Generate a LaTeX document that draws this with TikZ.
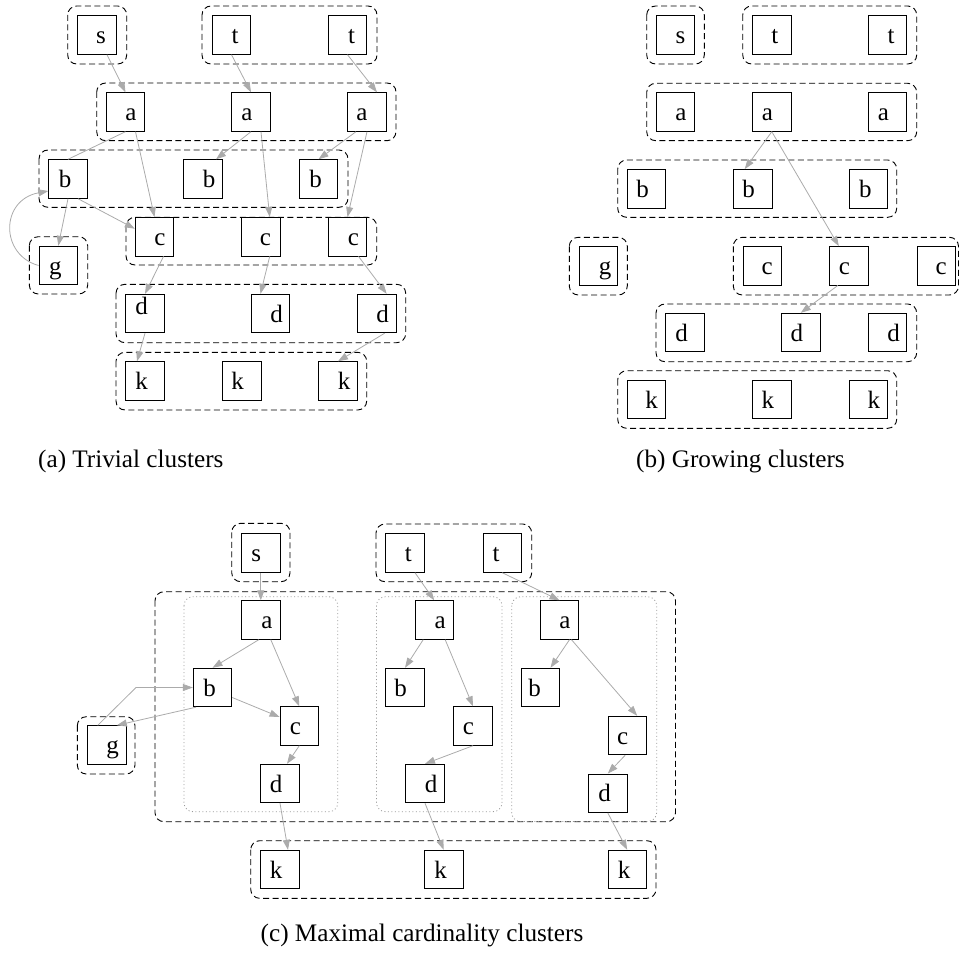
\documentclass[tikz,border=0pt]{standalone}
\usepackage{fontspec}
\setmainfont{Liberation Serif}
\usetikzlibrary{arrows.meta,calc}
\newcommand\ofs[2]{\makebox[0pt]{\hspace*{#1pt}\hspace*{#1pt}#2}}
\tikzset{
  box/.style={draw=black, line width=0.9pt, minimum width=38.5pt, minimum height=38.5pt,
    inner sep=0pt, text height=17pt, text depth=0pt, font=\fontsize{25}{29}\selectfont},
  edge/.style={draw=gray!66, line width=0.8pt, -{Triangle[length=10pt,width=7pt]}},
  plainedge/.style={draw=gray!66, line width=0.8pt},
  cluster/.style={draw=black, line width=0.9pt, dash pattern=on 6pt off 3.5pt, rounded corners=9pt},
  subcluster/.style={draw=black!40, line width=0.8pt, dash pattern=on 1pt off 2.5pt, rounded corners=9pt},
  caption/.style={anchor=base west, inner sep=0pt, font=\fontsize{25.2}{30}\selectfont}
}
\begin{document}
\begin{tikzpicture}[x=1pt,y=-1pt]
\useasboundingbox (0,0) rectangle (959,955);

% ================= panel (a) =================
\draw[cluster] (67.7,6) rectangle (126.7,64);
\draw[cluster] (202,6) rectangle (377,64);
\draw[cluster] (96.7,83) rectangle (396,140.7);
\draw[cluster] (39,150) rectangle (348,207.3);
\draw[cluster] (126,217.3) rectangle (376.7,265);
\draw[cluster] (29.3,236.7) rectangle (87.7,294);
\draw[cluster] (116,284.3) rectangle (405.7,342.7);
\draw[cluster] (116,352.3) rectangle (366.7,410);

\node[box] (aS)  at (97,35)      {\ofs{4}{s}};
\node[box] (aT1) at (231.5,35)   {\ofs{3.5}{t}};
\node[box] (aT2) at (347.5,35)   {\ofs{4}{t}};
\node[box] (aA1) at (125.5,112)  {\ofs{5.5}{a}};
\node[box] (aA2) at (251,112)    {\ofs{-4}{a}};
\node[box] (aA3) at (367,112)    {\ofs{-5}{a}};
\node[box] (aB1) at (68,179)     {\ofs{-3}{b}};
\node[box] (aB2) at (203,179)    {\ofs{6}{b}};
\node[box] (aB3) at (318.5,179)  {\ofs{-3}{b}};
\node[box] (aC1) at (154.5,236.7){\ofs{5.5}{c}};
\node[box] (aC2) at (260.7,236.7){\ofs{4.7}{c}};
\node[box] (aC3) at (347.5,236.7){\ofs{6}{c}};
\node[box] (aG)  at (58.3,265.5) {\ofs{-3}{g}};
\node[box] (aD1) at (145,313.5)  {\raisebox{8pt}{\ofs{-3.5}{d}}};
\node[box] (aD2) at (270.5,313.5){\ofs{6}{d}};
\node[box] (aD3) at (376.7,313.5){\ofs{6}{d}};
\node[box] (aK1) at (145,381)    {\ofs{-3.5}{k}};
\node[box] (aK2) at (241.7,381)  {\ofs{-4}{k}};
\node[box] (aK3) at (338,381)    {\ofs{6}{k}};

\draw[edge] ($(aS.south)+(10,0)$) -- (aA1.north);
\draw[edge] (aT1.south) -- (aA2.north);
\draw[edge] (aT2.south) -- ($(aA3.north)+(10,0)$);
\draw[plainedge] (aA1.south) -- (aB1.north);
\draw[edge] ($(aA1.south)+(10,0)$) -- (aC1.north);
\draw[edge] (aA2.south) -- ($(aB2.north)+(13,0)$);
\draw[edge] ($(aA2.south)+(10,0)$) -- ($(aC2.north)+(9,0)$);
\draw[edge] ($(aA3.south)+(-11,0)$) -- (aB3.north);
\draw[edge] (aA3.south) -- (aC3.north);
\draw[edge] (aB1.south) -- (aG.north);
\draw[edge] ($(aB1.south)+(10,0)$) -- ($(aC1.west)+(0,-8)$);
\draw[edge] (aG.west) .. controls (0,255) and (0,200) .. ($(aB1.west)+(0,12)$);
\draw[edge] ($(aC1.south)+(9,0)$) -- (aD1.north);
\draw[edge] ($(aC2.south)+(9,0)$) -- ($(aD2.north)+(-10,0)$);
\draw[edge] ($(aC3.south)+(11,0)$) -- ($(aD3.north)+(10,0)$);
\draw[edge] (aD1.south) -- ($(aK1.north)+(-8,0)$);
\draw[edge] ($(aD3.south)+(8,0)$) -- (aK3.north);

\node[caption] (capA) at (38,467.7) {(a) Trivial clusters};

% ================= panel (b) =================
\draw[cluster] (646.7,6) rectangle (704.3,64);
\draw[cluster] (742.7,6) rectangle (916.7,64);
\draw[cluster] (646.7,83.3) rectangle (916.7,140.7);
\draw[cluster] (617.7,160) rectangle (896.7,217.3);
\draw[cluster] (569.3,237.3) rectangle (627.3,295);
\draw[cluster] (733.3,237.3) rectangle (958.5,295);
\draw[cluster] (656,304) rectangle (916.7,361.7);
\draw[cluster] (617.7,370.7) rectangle (896.7,428.3);

\node[box] (bS)  at (675.5,35)   {\ofs{5}{s}};
\node[box] (bT1) at (771.8,35)   {\ofs{3}{t}};
\node[box] (bT2) at (887.5,35)   {\ofs{3.5}{t}};
\node[box] (bA1) at (675.5,112)  {\ofs{5.5}{a}};
\node[box] (bA2) at (771.8,112)  {\ofs{-4.5}{a}};
\node[box] (bA3) at (887.5,112)  {\ofs{-4}{a}};
\node[box] (bB1) at (646.5,188.8){\ofs{-4}{b}};
\node[box] (bB2) at (752.7,188.8){\ofs{-4}{b}};
\node[box] (bB3) at (868.3,188.8){\ofs{-3}{b}};
\node[box] (bG)  at (598.2,265.8){\ofs{7}{g}};
\node[box] (bC1) at (762.2,265.8){\ofs{5}{c}};
\node[box] (bC2) at (848.8,265.8){\ofs{-4.5}{c}};
\node[box] (bC3) at (936.2,265.8){\ofs{5}{c}};
\node[box] (bD1) at (685,332.5)  {\ofs{-3.3}{d}};
\node[box] (bD2) at (800.8,332.5){\ofs{-4}{d}};
\node[box] (bD3) at (887.5,332.5){\ofs{6}{d}};
\node[box] (bK1) at (646.5,399.5){\ofs{5}{k}};
\node[box] (bK2) at (771.8,399.5){\ofs{-4}{k}};
\node[box] (bK3) at (868.3,399.5){\ofs{5.5}{k}};

\draw[edge] (bA2.south) -- ($(bB2.north)+(-8,0)$);
\draw[edge] (bA2.south) -- ($(bC2.north)+(-10,0)$);
\draw[edge] ($(bC2.south)+(-11,0)$) -- (bD2.north);

\node[caption] (capB) at (636,467.7) {(b) Growing clusters};

% ================= panel (c) =================
\draw[cluster] (155,591.7) rectangle (675.5,821.7);
\draw[subcluster] (184,596.7) rectangle (337.8,811.7);
\draw[subcluster] (376.5,596.7) rectangle (502,811.7);
\draw[subcluster] (511.7,596.7) rectangle (656.7,821.5);
\draw[cluster] (231.7,523.3) rectangle (290,581.7);
\draw[cluster] (376,524) rectangle (531.7,581.7);
\draw[cluster] (77.3,716.7) rectangle (135,774);
\draw[cluster] (250.7,840.7) rectangle (656,898.3);

\node[box] (cS)  at (260.8,553)  {\ofs{-4.5}{s}};
\node[box] (cT1) at (405,553)    {\ofs{3.3}{t}};
\node[box] (cT2) at (502.2,553)  {\ofs{-6}{t}};
\node[box] (cA1) at (260.8,620)  {\ofs{6}{a}};
\node[box] (cA2) at (434.2,620)  {\ofs{6}{a}};
\node[box] (cA3) at (559.5,620)  {\ofs{5.5}{a}};
\node[box] (cB1) at (212.5,687.5){\ofs{-3}{b}};
\node[box] (cB2) at (405,687.5)  {\ofs{-4.5}{b}};
\node[box] (cB3) at (540.5,687.5){\ofs{-6}{b}};
\node[box] (cC1) at (299.3,726)  {\ofs{-4}{c}};
\node[box] (cC2) at (473,726)    {\ofs{-4.7}{c}};
\node[box] (cC3) at (627.2,735.5){\ofs{-4.5}{c}};
\node[box] (cG)  at (106.8,745)  {\ofs{5.7}{g}};
\node[box] (cD1) at (280,783.5)  {\ofs{-4}{d}};
\node[box] (cD2) at (425,783.5)  {\ofs{6}{d}};
\node[box] (cD3) at (607.8,793.2){\ofs{-3.3}{d}};
\node[box] (cK1) at (280,869.5)  {\ofs{-4}{k}};
\node[box] (cK2) at (443.7,869.5){\ofs{-3}{k}};
\node[box] (cK3) at (627.2,869.5){\ofs{-3}{k}};
\coordinate (cBend) at (136,687.5);

\draw[edge] (cS.south) -- (cA1.north);
\draw[edge] ($(cA1.south)+(-2,0)$) -- (cB1.north);
\draw[edge] ($(cA1.south)+(10,0)$) -- (cC1.north);
\draw[edge] ($(cB1.east)+(0,10)$) -- ($(cC1.west)+(0,-9)$);
\draw[edge] ($(cB1.south)+(-16.5,0)$) -- ($(cG.north)+(10,0)$);
\draw[edge] ($(cG.north)+(-9,0)$) -- (cBend) -- (cB1.west);
\draw[edge] (cC1.south) -- ($(cD1.north)+(7,0)$);
\draw[edge] (cD1.south) -- ($(cK1.north)+(8,0)$);
\draw[edge] ($(cT1.south)+(10,0)$) -- (cA2.north);
\draw[edge] ($(cA2.south)+(-11,0)$) -- (cB2.north);
\draw[edge] ($(cA2.south)+(11,0)$) -- (cC2.north);
\draw[edge] (cC2.south) -- (cD2.north);
\draw[edge] (cD2.south) -- (cK2.north);
\draw[edge] (cT2.south) -- (cA3.north);
\draw[edge] ($(cA3.south)+(10,0)$) -- ($(cB3.north)+(10,0)$);
\draw[edge] ($(cA3.south)+(12,0)$) -- ($(cC3.north)+(10,0)$);
\draw[edge] ($(cC3.south)+(-2,0)$) -- (cD3.north);
\draw[edge] (cD3.south) -- (cK3.north);

\node[caption] (capC) at (260.5,941.7) {(c) Maximal cardinality clusters};
\end{tikzpicture}
\end{document}
